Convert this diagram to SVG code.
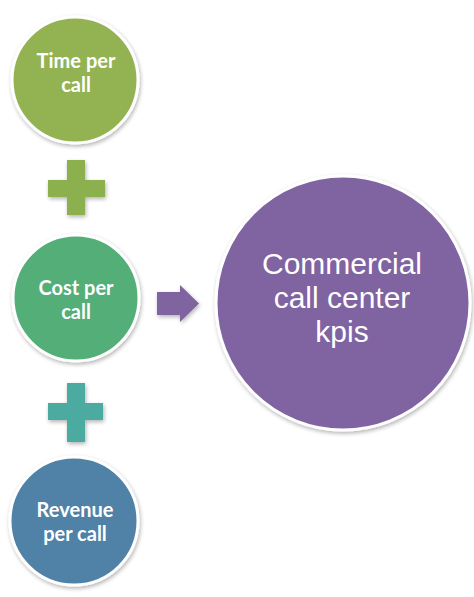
<svg xmlns="http://www.w3.org/2000/svg" width="474" height="597" viewBox="0 0 474 597">
<defs>
<filter id="sh" x="-20%" y="-20%" width="140%" height="140%">
<feGaussianBlur in="SourceAlpha" stdDeviation="2"/>
<feOffset dx="1" dy="2" result="b"/>
<feComponentTransfer><feFuncA type="linear" slope="0.3"/></feComponentTransfer>
<feMerge><feMergeNode/><feMergeNode in="SourceGraphic"/></feMerge>
</filter>
<style>
.c{stroke:#ffffff;stroke-width:3;filter:url(#sh)}
.t{font-family:Lato,"Open Sans",sans-serif;fill:#ffffff;text-anchor:middle}
.s{font-size:20px;font-weight:bold}
.b{font-family:"Liberation Sans",Arial,sans-serif;font-size:30px}
</style>
</defs>
<rect width="474" height="597" fill="#ffffff"/>
<g id="time">
<circle class="c" cx="75" cy="80" r="63" fill="#93B353"/>
<text class="t s"><tspan x="76" y="68">Time per</tspan><tspan x="76" y="92">call</tspan></text>
</g>
<g id="cost">
<circle class="c" cx="76" cy="298" r="63" fill="#52AE78"/>
<text class="t s"><tspan x="76" y="295">Cost per</tspan><tspan x="76" y="319">call</tspan></text>
</g>
<g id="revenue">
<circle class="c" cx="74" cy="521" r="64" fill="#4F82A6"/>
<text class="t s"><tspan x="75" y="517">Revenue</tspan><tspan x="75" y="541">per call</tspan></text>
</g>
<g id="kpis">
<circle class="c" cx="343" cy="303" r="127" fill="#8063A1"/>
<text class="t b"><tspan x="342" y="274">Commercial</tspan><tspan x="342" y="308">call center</tspan><tspan x="342" y="342">kpis</tspan></text>
</g>
<g id="connectors" filter="url(#sh)">
<path d="M67,160 H85 V180 H105 V197 H85 V215 H67 V197 H48 V180 H67 Z" fill="#8DB04F"/>
<path d="M67,383 H85 V403 H103 V420 H85 V442 H67 V420 H48 V403 H67 Z" fill="#4BABA0"/>
<path d="M157,292 H180 V285 L199,303.5 L180,322 V315 H157 Z" fill="#8063A1"/>
</g>
</svg>
